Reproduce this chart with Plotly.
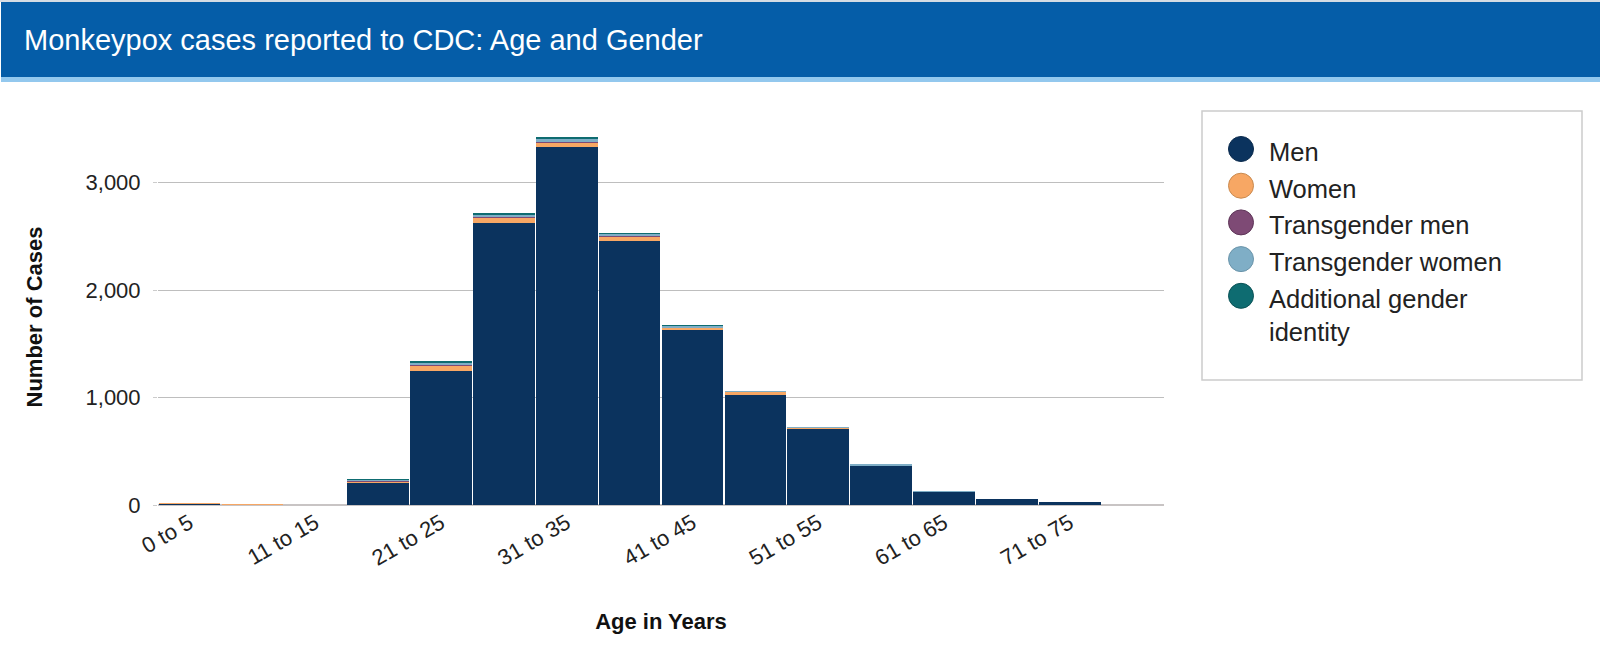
import plotly.graph_objects as go

# ---- data ----
age_groups = ["0 to 5", "6 to 10", "11 to 15", "16 to 20", "21 to 25", "26 to 30",
              "31 to 35", "36 to 40", "41 to 45", "46 to 50", "51 to 55", "56 to 60",
              "61 to 65", "66 to 70", "71 to 75", "76 to 80"]
men = [10, 3, 0, 208, 1250, 2628, 3336, 2461, 1630, 1028, 708, 369, 128, 53, 25, 0]
women = [2, 6, 0, 14, 48, 45, 37, 38, 24, 29, 13, 3, 1, 0, 0, 0]
transgender_men = [0, 0, 0, 2, 8, 6, 6, 4, 1, 0, 0, 0, 0, 0, 0, 0]
transgender_women = [0, 0, 0, 12, 20, 22, 28, 20, 13, 4, 2, 2, 1, 0, 0, 0]
additional_identity = [0, 0, 0, 3, 17, 21, 17, 7, 2, 0, 0, 0, 0, 0, 0, 0]

series_names = ["Men", "Women", "Transgender men", "Transgender women",
                "Additional gender identity"]
legend_labels = ["Men", "Women", "Transgender men", "Transgender women",
                 "Additional gender<br>identity"]
series_values = [men, women, transgender_men, transgender_women, additional_identity]
series_colors = ["#0B335E", "#F7A764", "#7E4A75", "#7FAEC6", "#0E6C71"]
series_edges = ["#0A2A4D", "#C98A50", "#5E3558", "#6A94AA", "#0A5256"]

tick_labels = age_groups[::2]

# ---- layout geometry (pixels) ----
W, H = 1600, 655
L, R, T, B = 158, 436, 129, 150
PW, PH = W - L - R, H - T - B


def px(x):
    return (x - L) / PW


def py(y):
    return (H - B - y) / PH


fig = go.Figure()
for name, vals, col in zip(series_names, series_values, series_colors):
    fig.add_trace(go.Bar(
        x=age_groups, y=vals, name=name, marker=dict(color=col, line=dict(width=0)),
        showlegend=False,
        hovertemplate="%{x}<br>" + name + ": %{y:,}<extra></extra>",
    ))

shapes = []
annotations = []
# header band
shapes.append(dict(type="rect", xref="paper", yref="paper", x0=px(0), x1=px(W),
                   y0=py(2), y1=py(0), fillcolor="#D5DCE4", line=dict(width=0), layer="below"))
shapes.append(dict(type="rect", xref="paper", yref="paper", x0=px(1), x1=px(W),
                   y0=py(77), y1=py(2), fillcolor="#055DA8", line=dict(width=0), layer="below"))
shapes.append(dict(type="rect", xref="paper", yref="paper", x0=px(1), x1=px(W),
                   y0=py(82), y1=py(77), fillcolor="#93C8EE", line=dict(width=0), layer="below"))
# legend box
shapes.append(dict(type="rect", xref="paper", yref="paper", x0=px(1202), x1=px(1582),
                   y0=py(380), y1=py(111), fillcolor="white",
                   line=dict(color="#CCCCCC", width=1.5), layer="below"))
# legend entries
for i, (lab, col, edge) in enumerate(zip(legend_labels, series_colors, series_edges)):
    cy = 149 + i * 36.7
    shapes.append(dict(type="circle", xref="paper", yref="paper",
                       xsizemode="pixel", ysizemode="pixel",
                       xanchor=px(1241), yanchor=py(cy),
                       x0=-12.5, x1=12.5, y0=-12.5, y1=12.5,
                       fillcolor=col, line=dict(color=edge, width=1)))
    annotations.append(dict(xref="paper", yref="paper", x=px(1267), y=py(cy - 13),
                            xanchor="left", yanchor="top", align="left",
                            text=lab, showarrow=False,
                            font=dict(family="Liberation Sans, Arial, sans-serif",
                                      size=25.5, color="#222222")))

fig.update_layout(
    width=W, height=H,
    margin=dict(l=L, r=R, t=T, b=B, autoexpand=False),
    paper_bgcolor="white", plot_bgcolor="white",
    barmode="stack", bargap=0.02,
    font=dict(family="Liberation Sans, Arial, sans-serif", color="#222222"),
    title=dict(text="Monkeypox cases reported to CDC: Age and Gender",
               xref="container", yref="container", x=24 / W, xanchor="left",
               y=1 - 40 / H, yanchor="middle",
               font=dict(family="Liberation Sans, Arial, sans-serif",
                         size=29, color="white")),
    shapes=shapes, annotations=annotations,
    showlegend=False,
)
fig.update_xaxes(
    type="category", tickmode="array", tickvals=tick_labels, ticktext=tick_labels,
    tickangle=-30, tickfont=dict(size=22, color="#222222"),
    showgrid=False, showline=False, ticks="",
    title=dict(text="Age in Years", standoff=43,
               font=dict(size=22, weight="bold", color="#111111")),
)
fig.update_yaxes(
    range=[0, 3500], tickvals=[0, 1000, 2000, 3000], tickformat=",",
    tickfont=dict(size=22, color="#222222"),
    gridcolor="#BEBEBE", gridwidth=1,
    zeroline=True, zerolinecolor="#C8C4C4", zerolinewidth=1.5,
    ticks="outside", ticklen=4, tickcolor="#CCCCCC",
    ticklabelstandoff=8,
    title=dict(text="Number of Cases", standoff=36,
               font=dict(size=22, weight="bold", color="#111111")),
)

fig.write_html(
    "out.html",
    config={"displayModeBar": False},
    post_script="document.body.style.margin='0';document.body.style.padding='0';"
                "document.body.style.overflow='hidden';",
)
